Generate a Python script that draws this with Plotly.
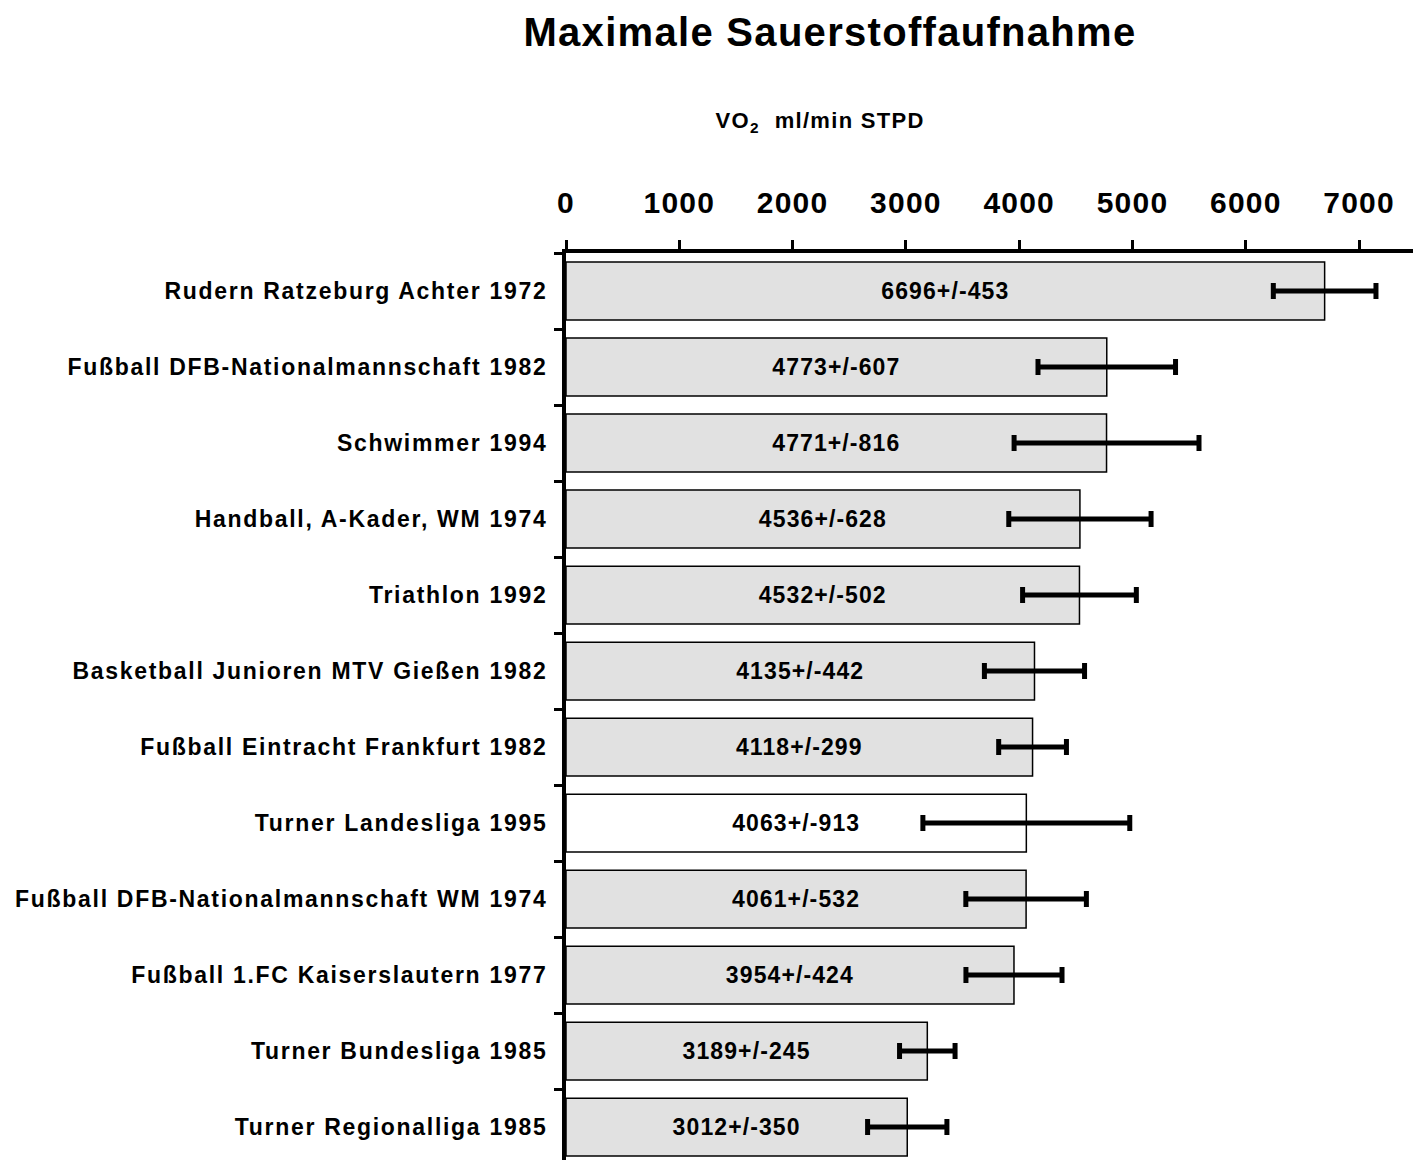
import plotly.graph_objects as go

categories = [
    "Rudern Ratzeburg Achter 1972",
    "Fußball DFB-Nationalmannschaft 1982",
    "Schwimmer 1994",
    "Handball, A-Kader, WM 1974",
    "Triathlon 1992",
    "Basketball Junioren MTV Gießen 1982",
    "Fußball Eintracht Frankfurt 1982",
    "Turner Landesliga 1995",
    "Fußball DFB-Nationalmannschaft WM 1974",
    "Fußball 1.FC Kaiserslautern 1977",
    "Turner Bundesliga 1985",
    "Turner Regionalliga 1985",
]
means = [6696, 4773, 4771, 4536, 4532, 4135, 4118, 4063, 4061, 3954, 3189, 3012]
sds = [453, 607, 816, 628, 502, 442, 299, 913, 532, 424, 245, 350]
tick_values = [0, 1000, 2000, 3000, 4000, 5000, 6000, 7000]

FONT = "Liberation Sans, Arial, sans-serif"
colors = ["#ffffff" if c == "Turner Landesliga 1995" else "#e1e1e1" for c in categories]
labels = [f"{m}+/-{s}" for m, s in zip(means, sds)]

fig = go.Figure(go.Bar(
    x=means, y=categories, orientation="h",
    width=0.76,
    marker=dict(color=colors, line=dict(color="black", width=1.5)),
    error_x=dict(type="data", array=sds, visible=True, color="black", thickness=5, width=8),
    text=labels, textposition="inside", insidetextanchor="middle",
    textangle=0, constraintext="none",
    textfont=dict(family=FONT, size=23, color="black", weight="bold"),
    hoverinfo="skip",
))

# the page body has an 8px margin, so the figure is sized and placed to compensate
fig.update_layout(
    width=1413, height=1152,
    margin=dict(l=558, r=3, t=245, b=0),
    paper_bgcolor="white", plot_bgcolor="white",
    showlegend=False,
    font=dict(family=FONT, color="black"),
    xaxis=dict(
        side="top", range=[0, 7520], tickvals=tick_values,
        showgrid=False, zeroline=False,
        showline=True, linewidth=4, linecolor="black",
        ticks="outside", ticklen=9, tickwidth=3, tickcolor="black",
        tickfont=dict(family=FONT, size=30, color="black", weight="bold"),
        ticklabelstandoff=15,
    ),
    yaxis=dict(
        type="category", categoryorder="array", categoryarray=categories,
        range=[11.434, -0.5],
        showgrid=False, zeroline=False,
        showline=True, linewidth=4, linecolor="black",
        ticks="outside", tickson="boundaries", ticklen=8, tickwidth=3, tickcolor="black",
        tickfont=dict(family=FONT, size=23, color="black", weight="bold"),
        ticklabelstandoff=10,
    ),
    annotations=[
        dict(text="Maximale Sauerstoffaufnahme", x=0.31, y=1.244, xref="paper", yref="paper",
             xanchor="center", yanchor="middle", showarrow=False,
             font=dict(family=FONT, size=40, color="black", weight="bold")),
        dict(text="VO<sub>2</sub>  ml/min STPD", x=0.298, y=1.144, xref="paper", yref="paper",
             xanchor="center", yanchor="middle", showarrow=False,
             font=dict(family=FONT, size=22, color="black", weight="bold")),
    ],
)

post = """
function sp(sel, v){ document.querySelectorAll(sel).forEach(function(t){ t.style.letterSpacing = v; }); }
sp('.ytick text', '1.7px');
sp('.xtick text', '1.2px');
sp('text.bartext', '1.1px');
sp('.annotation-text', '1.3px');
"""

fig.write_html("out.html", post_script=post)
